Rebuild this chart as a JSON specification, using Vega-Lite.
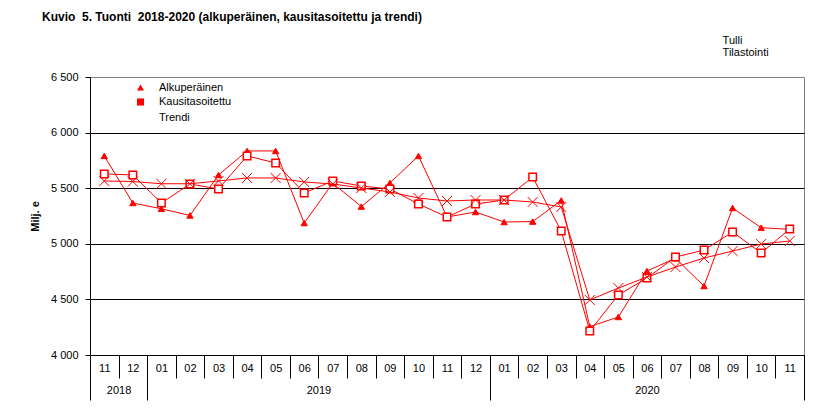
{
  "$schema": "https://vega.github.io/schema/vega-lite/v6.json",
  "autosize": "none",
  "padding": {"left": 90, "top": 77, "right": 27, "bottom": 61},
  "width": 714,
  "height": 278,
  "background": "white",
  "config": {
    "font": "Liberation Sans",
    "view": {"stroke": "#808080", "strokeWidth": 1},
    "axis": {"labelColor": "black", "titleColor": "black", "labelFont": "Liberation Sans", "titleFont": "Liberation Sans"},
    "legend": {"labelFont": "Liberation Sans", "labelColor": "black"}
  },
  "title": {
    "text": "Kuvio\u00a0 5. Tuonti\u00a0 2018-2020 (alkuperäinen, kausitasoitettu ja trendi)",
    "anchor": "start",
    "frame": "group",
    "dx": -48,
    "offset": 10,
    "fontSize": 12,
    "fontWeight": "bold",
    "font": "Liberation Sans",
    "color": "black"
  },
  "data": {
    "values": [
      {"month": "2018-11", "series": "Alkuperäinen", "value": 5790},
      {"month": "2018-12", "series": "Alkuperäinen", "value": 5367},
      {"month": "2019-01", "series": "Alkuperäinen", "value": 5315},
      {"month": "2019-02", "series": "Alkuperäinen", "value": 5255},
      {"month": "2019-03", "series": "Alkuperäinen", "value": 5619},
      {"month": "2019-04", "series": "Alkuperäinen", "value": 5835},
      {"month": "2019-05", "series": "Alkuperäinen", "value": 5835},
      {"month": "2019-06", "series": "Alkuperäinen", "value": 5187},
      {"month": "2019-07", "series": "Alkuperäinen", "value": 5545},
      {"month": "2019-08", "series": "Alkuperäinen", "value": 5335},
      {"month": "2019-09", "series": "Alkuperäinen", "value": 5547},
      {"month": "2019-10", "series": "Alkuperäinen", "value": 5790},
      {"month": "2019-11", "series": "Alkuperäinen", "value": 5241},
      {"month": "2019-12", "series": "Alkuperäinen", "value": 5286},
      {"month": "2020-01", "series": "Alkuperäinen", "value": 5196},
      {"month": "2020-02", "series": "Alkuperäinen", "value": 5200},
      {"month": "2020-03", "series": "Alkuperäinen", "value": 5390},
      {"month": "2020-04", "series": "Alkuperäinen", "value": 4255},
      {"month": "2020-05", "series": "Alkuperäinen", "value": 4342},
      {"month": "2020-06", "series": "Alkuperäinen", "value": 4755},
      {"month": "2020-07", "series": "Alkuperäinen", "value": 4870},
      {"month": "2020-08", "series": "Alkuperäinen", "value": 4620},
      {"month": "2020-09", "series": "Alkuperäinen", "value": 5322},
      {"month": "2020-10", "series": "Alkuperäinen", "value": 5145},
      {"month": "2020-11", "series": "Alkuperäinen", "value": 5130},
      {"month": "2018-11", "series": "Kausitasoitettu", "value": 5628},
      {"month": "2018-12", "series": "Kausitasoitettu", "value": 5619},
      {"month": "2019-01", "series": "Kausitasoitettu", "value": 5367},
      {"month": "2019-02", "series": "Kausitasoitettu", "value": 5538},
      {"month": "2019-03", "series": "Kausitasoitettu", "value": 5493},
      {"month": "2019-04", "series": "Kausitasoitettu", "value": 5790},
      {"month": "2019-05", "series": "Kausitasoitettu", "value": 5727},
      {"month": "2019-06", "series": "Kausitasoitettu", "value": 5457},
      {"month": "2019-07", "series": "Kausitasoitettu", "value": 5565},
      {"month": "2019-08", "series": "Kausitasoitettu", "value": 5520},
      {"month": "2019-09", "series": "Kausitasoitettu", "value": 5493},
      {"month": "2019-10", "series": "Kausitasoitettu", "value": 5358},
      {"month": "2019-11", "series": "Kausitasoitettu", "value": 5241},
      {"month": "2019-12", "series": "Kausitasoitettu", "value": 5358},
      {"month": "2020-01", "series": "Kausitasoitettu", "value": 5394},
      {"month": "2020-02", "series": "Kausitasoitettu", "value": 5600},
      {"month": "2020-03", "series": "Kausitasoitettu", "value": 5115},
      {"month": "2020-04", "series": "Kausitasoitettu", "value": 4216},
      {"month": "2020-05", "series": "Kausitasoitettu", "value": 4540},
      {"month": "2020-06", "series": "Kausitasoitettu", "value": 4692},
      {"month": "2020-07", "series": "Kausitasoitettu", "value": 4881},
      {"month": "2020-08", "series": "Kausitasoitettu", "value": 4944},
      {"month": "2020-09", "series": "Kausitasoitettu", "value": 5106},
      {"month": "2020-10", "series": "Kausitasoitettu", "value": 4917},
      {"month": "2020-11", "series": "Kausitasoitettu", "value": 5133},
      {"month": "2018-11", "series": "Trendi", "value": 5565},
      {"month": "2018-12", "series": "Trendi", "value": 5560},
      {"month": "2019-01", "series": "Trendi", "value": 5540},
      {"month": "2019-02", "series": "Trendi", "value": 5540},
      {"month": "2019-03", "series": "Trendi", "value": 5565},
      {"month": "2019-04", "series": "Trendi", "value": 5592},
      {"month": "2019-05", "series": "Trendi", "value": 5592},
      {"month": "2019-06", "series": "Trendi", "value": 5556},
      {"month": "2019-07", "series": "Trendi", "value": 5538},
      {"month": "2019-08", "series": "Trendi", "value": 5502},
      {"month": "2019-09", "series": "Trendi", "value": 5466},
      {"month": "2019-10", "series": "Trendi", "value": 5412},
      {"month": "2019-11", "series": "Trendi", "value": 5385},
      {"month": "2019-12", "series": "Trendi", "value": 5394},
      {"month": "2020-01", "series": "Trendi", "value": 5394},
      {"month": "2020-02", "series": "Trendi", "value": 5376},
      {"month": "2020-03", "series": "Trendi", "value": 5331},
      {"month": "2020-04", "series": "Trendi", "value": 4495},
      {"month": "2020-05", "series": "Trendi", "value": 4602},
      {"month": "2020-06", "series": "Trendi", "value": 4701},
      {"month": "2020-07", "series": "Trendi", "value": 4791},
      {"month": "2020-08", "series": "Trendi", "value": 4872},
      {"month": "2020-09", "series": "Trendi", "value": 4935},
      {"month": "2020-10", "series": "Trendi", "value": 4998},
      {"month": "2020-11", "series": "Trendi", "value": 5025}
    ]
  },
  "resolve": {"scale": {"x": "independent"}, "axis": {"x": "independent"}},
  "layer": [
    {
      "transform": [{"filter": "datum.series == 'Alkuperäinen'"}],
      "mark": {"type": "line", "color": "#ff0000", "strokeWidth": 1, "point": {"filled": true, "fill": "#ff0000", "stroke": "#ff0000", "strokeWidth": 1, "size": 40}},
      "encoding": {
        "x": {
          "field": "month", "type": "ordinal",
          "scale": {"type": "band", "paddingInner": 0, "paddingOuter": 0},
          "axis": {"orient": "bottom", "title": null, "labelExpr": "slice(datum.label + '', 5)", "tickBand": "extent", "tickSize": 23, "tickColor": "black", "domainColor": "black", "labelPadding": -10, "labelBaseline": "middle", "labelFontSize": 11, "labelAngle": 0, "grid": false, "labelFlush": false, "labelOverlap": false}
        },
        "y": {
          "field": "value", "type": "quantitative",
          "scale": {"domain": [4000, 6500], "nice": false, "zero": false},
          "axis": {"values": [4000, 4500, 5000, 5500, 6000, 6500], "labelExpr": "replace(format(datum.value, ','), ',', ' ')", "title": "Milj. e", "titleFontWeight": "bold", "titleFontSize": 11, "titlePadding": 10, "labelFontSize": 11, "labelPadding": 7, "tickSize": 5, "tickColor": "black", "domainColor": "black", "grid": true, "gridColor": "black", "gridOpacity": {"condition": {"test": "datum.value == 6500", "value": 0}, "value": 1}}
        },
        "shape": {
          "field": "series", "type": "nominal",
          "scale": {"domain": ["Alkuperäinen", "Kausitasoitettu", "Trendi"], "range": ["triangle-up", "square", "M-1,-1L1,1M-1,1L1,-1"]},
          "legend": {"title": null, "orient": "none", "legendX": 45, "legendY": 5, "padding": 0, "rowPadding": 2.5, "symbolSize": 50, "labelOffset": 13, "labelFontSize": 11, "symbolStrokeColor": "#ff0000", "symbolStrokeWidth": 1, "symbolOpacity": 1}
        }
      }
    },
    {
      "transform": [{"filter": "datum.series == 'Kausitasoitettu'"}],
      "mark": {"type": "line", "color": "#ff0000", "strokeWidth": 1, "point": {"filled": true, "fill": "white", "stroke": "#ff0000", "strokeWidth": 1.5, "size": 56}},
      "encoding": {
        "x": {
          "field": "month", "type": "ordinal",
          "scale": {"type": "band", "paddingInner": 0, "paddingOuter": 0},
          "axis": {"orient": "bottom", "title": null, "values": ["2018-11", "2018-12", "2019-12", "2020-11"], "labelExpr": "datum.value == '2018-12' ? '' : slice(datum.label + '', 0, 4)", "tickBand": "extent", "tickSize": 45, "tickColor": "black", "domain": false, "labelPadding": -10, "labelBaseline": "middle", "labelFontSize": 11, "labelAngle": 0, "grid": false, "labelFlush": false, "labelOverlap": false,
            "tickOpacity": {"condition": {"test": "datum.value == '2018-11'", "value": 0}, "value": 1},
            "labelOffset": {"condition": [{"test": "datum.value == '2018-11'", "value": 14.28}, {"test": "datum.value == '2019-12'", "value": -157.08}], "value": -142.8}}
        },
        "y": {"field": "value", "type": "quantitative"},
        "shape": {"field": "series", "type": "nominal"}
      }
    },
    {
      "transform": [{"filter": "datum.series == 'Trendi'"}],
      "mark": {"type": "line", "color": "#ff0000", "strokeWidth": 1, "point": {"filled": false, "stroke": "#ff0000", "strokeWidth": 1, "size": 100}},
      "encoding": {
        "x": {
          "field": "month", "type": "ordinal",
          "scale": {"type": "band", "paddingInner": 0, "paddingOuter": 0},
          "axis": {"orient": "top", "title": null, "values": ["2020-09"], "labelExpr": "['Tulli', 'Tilastointi']", "ticks": false, "domain": false, "grid": false, "labelAlign": "left", "labelBaseline": "bottom", "labelOffset": -10, "labelPadding": 32, "labelFontSize": 11, "labelLineHeight": 12, "labelAngle": 0}
        },
        "y": {"field": "value", "type": "quantitative"},
        "shape": {"field": "series", "type": "nominal"}
      }
    }
  ]
}
